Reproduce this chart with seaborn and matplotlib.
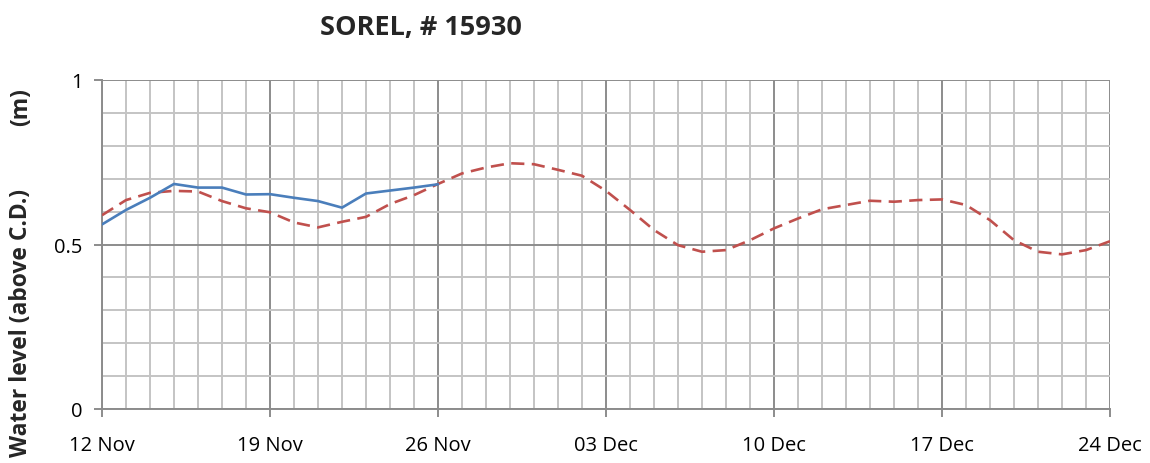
import pandas as pd
import matplotlib
matplotlib.use("Agg")
import matplotlib.pyplot as plt
import matplotlib.dates as mdates
import seaborn as sns

# observed water level, daily from 12 Nov to 26 Nov
obs_dates = pd.date_range("2013-11-12", "2013-11-26", freq="D")
obs_level = [0.561, 0.605, 0.642, 0.684, 0.673, 0.673, 0.652, 0.653,
             0.642, 0.632, 0.612, 0.655, 0.664, 0.673, 0.683]

# predicted water level, daily from 12 Nov to 24 Dec
pred_dates = pd.date_range("2013-11-12", "2013-12-24", freq="D")
pred_level = [0.589, 0.635, 0.657, 0.663, 0.661, 0.632, 0.610, 0.598,
              0.567, 0.552, 0.569, 0.584, 0.623, 0.650, 0.684, 0.716,
              0.734, 0.747, 0.744, 0.727, 0.709, 0.663, 0.605, 0.544,
              0.498, 0.478, 0.483, 0.513, 0.549, 0.579, 0.607, 0.620,
              0.633, 0.630, 0.635, 0.637, 0.620, 0.574, 0.513, 0.478,
              0.470, 0.483, 0.510]

week_ticks = pred_dates[::7]

title = "SOREL, # 15930"
ylabel = "Water level (above C.D.)"
yunit = "(m)"

sns.set_theme(style="white")
plt.rcParams['font.family'] = ['Open Sans', 'DejaVu Sans']

fig = plt.figure(figsize=(11.5, 4.64), dpi=100)
ax = fig.add_axes([102 / 1150, 1 - 410 / 464, 1008 / 1150, 329 / 464])

obs_df = pd.DataFrame({"date": obs_dates, "level": obs_level})
pred_df = pd.DataFrame({"date": pred_dates, "level": pred_level})

sns.lineplot(data=obs_df, x="date", y="level", ax=ax, color="#4a7ebb", linewidth=1.9, zorder=4)
sns.lineplot(data=pred_df, x="date", y="level", ax=ax, color="#c0504d", linewidth=1.9, zorder=3)
ax.lines[-1].set_dashes((5, 2.8))

ax.set_xlim(pred_dates[0], pred_dates[-1])
ax.set_ylim(0, 1)

ax.set_xticks(week_ticks)
ax.xaxis.set_major_formatter(mdates.DateFormatter("%d %b"))
ax.xaxis.set_minor_locator(mdates.DayLocator())
ax.set_yticks([0, 0.5, 1])
ax.set_yticklabels(["0", "0.5", "1"])
ax.set_yticks([i / 10 for i in range(11)], minor=True)

ax.grid(which="minor", color="#c4c4c4", linewidth=1.4)
ax.grid(which="major", color="#8c8c8c", linewidth=1.4)
ax.set_axisbelow(True)

for side in ["top", "right"]:
    ax.spines[side].set_visible(False)
for side in ["left", "bottom"]:
    ax.spines[side].set_color("#8c8c8c")
    ax.spines[side].set_linewidth(1.4)

ax.tick_params(axis="both", which="major", length=6, width=1.4, color="#8c8c8c",
               labelsize=14.5, labelcolor="black")
ax.tick_params(axis="both", which="minor", length=0)
ax.tick_params(axis="x", direction="out", bottom=True, pad=13)
ax.tick_params(axis="y", direction="out", left=True, pad=8)

ax.set_xlabel("")
ax.set_ylabel("")

fig.text(421 / 1150, 1 - 28 / 464, title, ha="center", va="center",
         fontsize=19.5, fontweight="bold")
fig.text(21 / 1150, 1 - 323 / 464, ylabel, ha="center", va="center",
         rotation=90, fontsize=16.5, fontweight="bold")
fig.text(21 / 1150, 1 - 107 / 464, yunit, ha="center", va="center",
         rotation=90, fontsize=16.5, fontweight="bold")

fig.savefig("out.png", dpi=100)
